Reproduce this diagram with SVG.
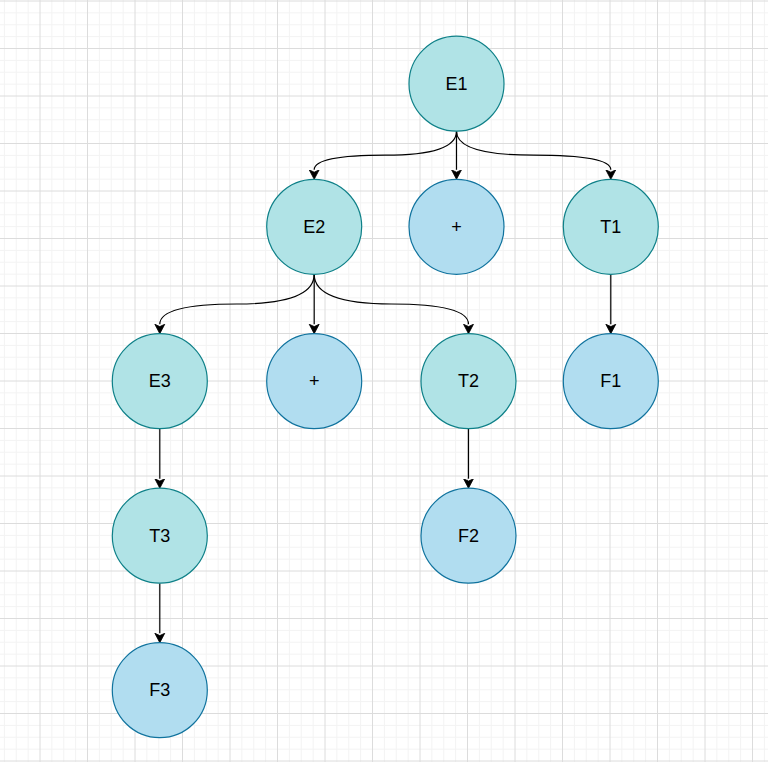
<svg xmlns="http://www.w3.org/2000/svg" width="768" height="762" viewBox="0 0 768 762">
<defs>
<style>
.minor{stroke:#f3f3f3;stroke-width:1;fill:none}
.major{stroke:#dcdcdc;stroke-width:1;fill:none}
.teal{fill:#b0e3e6;stroke:#0e8088;stroke-width:1.2}
.blue{fill:#b1ddf0;stroke:#10739e;stroke-width:1.2}
.lbl{font-family:"Liberation Sans",Arial,Helvetica,sans-serif;font-size:18px;fill:#000;text-anchor:middle;dominant-baseline:central}
.edge{fill:none;stroke:#000;stroke-width:1.2}
</style>
<marker id="arr" markerUnits="userSpaceOnUse" markerWidth="12" markerHeight="12" refX="0" refY="5" orient="auto" viewBox="0 0 12 10">
<path d="M0,0 L9.5,5 L0,10 L2.4,5 Z" fill="#000" stroke="#000" stroke-width="0.8"/>
</marker>
</defs>
<rect width="768" height="762" fill="#ffffff"/>
<g id="grid">
<path class="minor" d="M4.375 0V762M16.25 0V762M28.125 0V762M51.875 0V762M63.75 0V762M75.625 0V762M99.375 0V762M111.25 0V762M123.125 0V762M146.875 0V762M158.75 0V762M170.625 0V762M194.375 0V762M206.25 0V762M218.125 0V762M241.875 0V762M253.75 0V762M265.625 0V762M289.375 0V762M301.25 0V762M313.125 0V762M336.875 0V762M348.75 0V762M360.625 0V762M384.375 0V762M396.25 0V762M408.125 0V762M431.875 0V762M443.75 0V762M455.625 0V762M479.375 0V762M491.25 0V762M503.125 0V762M526.875 0V762M538.75 0V762M550.625 0V762M574.375 0V762M586.25 0V762M598.125 0V762M621.875 0V762M633.75 0V762M645.625 0V762M669.375 0V762M681.25 0V762M693.125 0V762M716.875 0V762M728.75 0V762M740.625 0V762M764.375 0V762
M0 12.875H768M0 24.75H768M0 36.625H768M0 60.375H768M0 72.25H768M0 84.125H768M0 107.875H768M0 119.75H768M0 131.625H768M0 155.375H768M0 167.25H768M0 179.125H768M0 202.875H768M0 214.75H768M0 226.625H768M0 250.375H768M0 262.25H768M0 274.125H768M0 297.875H768M0 309.75H768M0 321.625H768M0 345.375H768M0 357.25H768M0 369.125H768M0 392.875H768M0 404.75H768M0 416.625H768M0 440.375H768M0 452.25H768M0 464.125H768M0 487.875H768M0 499.75H768M0 511.625H768M0 535.375H768M0 547.25H768M0 559.125H768M0 582.875H768M0 594.75H768M0 606.625H768M0 630.375H768M0 642.25H768M0 654.125H768M0 677.875H768M0 689.75H768M0 701.625H768M0 725.375H768M0 737.25H768M0 749.125H768"/>
<path class="major" d="M40 0V762M87.5 0V762M135 0V762M182.5 0V762M230 0V762M277.5 0V762M325 0V762M372.5 0V762M420 0V762M467.5 0V762M515 0V762M562.5 0V762M610 0V762M657.5 0V762M705 0V762M752.5 0V762
M0 1H768M0 48.5H768M0 96H768M0 143.5H768M0 191H768M0 238.5H768M0 286H768M0 333.5H768M0 381H768M0 428.5H768M0 476H768M0 523.5H768M0 571H768M0 618.5H768M0 666H768M0 713.5H768M0 761H768"/>
</g>
<g id="edges">
<path class="edge" marker-end="url(#arr)" d="M456.5,131.2 Q456.5,155.2 385.35,155.2 Q314.2,155.2 314.2,169.8"/>
<path class="edge" marker-end="url(#arr)" d="M456.5,131.2 V169.8"/>
<path class="edge" marker-end="url(#arr)" d="M456.5,131.2 Q456.5,155.2 533.65,155.2 Q610.8,155.2 610.8,169.8"/>
<path class="edge" marker-end="url(#arr)" d="M314.2,274.3 Q314.2,304 237,304 Q159.8,304 159.8,324.2"/>
<path class="edge" marker-end="url(#arr)" d="M314.2,274.3 V324.2"/>
<path class="edge" marker-end="url(#arr)" d="M314.2,274.3 Q314.2,304 391.35,304 Q468.5,304 468.5,324.2"/>
<path class="edge" marker-end="url(#arr)" d="M610.8,274.3 V324.2"/>
<path class="edge" marker-end="url(#arr)" d="M159.8,428.7 V478.7"/>
<path class="edge" marker-end="url(#arr)" d="M159.8,583.2 V633.2"/>
<path class="edge" marker-end="url(#arr)" d="M468.5,428.7 V478.7"/>
</g>
<g id="E1"><circle class="teal" cx="456.5" cy="83.7" r="47.5"/><text class="lbl" x="456.5" y="83.7">E1</text></g>
<g id="E2"><circle class="teal" cx="314.2" cy="226.8" r="47.5"/><text class="lbl" x="314.2" y="226.8">E2</text></g>
<g id="plus1"><circle class="blue" cx="456.5" cy="226.8" r="47.5"/><text class="lbl" x="456.5" y="226.8">+</text></g>
<g id="T1"><circle class="teal" cx="610.8" cy="226.8" r="47.5"/><text class="lbl" x="610.8" y="226.8">T1</text></g>
<g id="E3"><circle class="teal" cx="159.8" cy="381.2" r="47.5"/><text class="lbl" x="159.8" y="381.2">E3</text></g>
<g id="plus2"><circle class="blue" cx="314.2" cy="381.2" r="47.5"/><text class="lbl" x="314.2" y="381.2">+</text></g>
<g id="T2"><circle class="teal" cx="468.5" cy="381.2" r="47.5"/><text class="lbl" x="468.5" y="381.2">T2</text></g>
<g id="F1"><circle class="blue" cx="610.8" cy="381.2" r="47.5"/><text class="lbl" x="610.8" y="381.2">F1</text></g>
<g id="T3"><circle class="teal" cx="159.8" cy="535.7" r="47.5"/><text class="lbl" x="159.8" y="535.7">T3</text></g>
<g id="F2"><circle class="blue" cx="468.5" cy="535.7" r="47.5"/><text class="lbl" x="468.5" y="535.7">F2</text></g>
<g id="F3"><circle class="blue" cx="159.8" cy="690.2" r="47.5"/><text class="lbl" x="159.8" y="690.2">F3</text></g>
</svg>
